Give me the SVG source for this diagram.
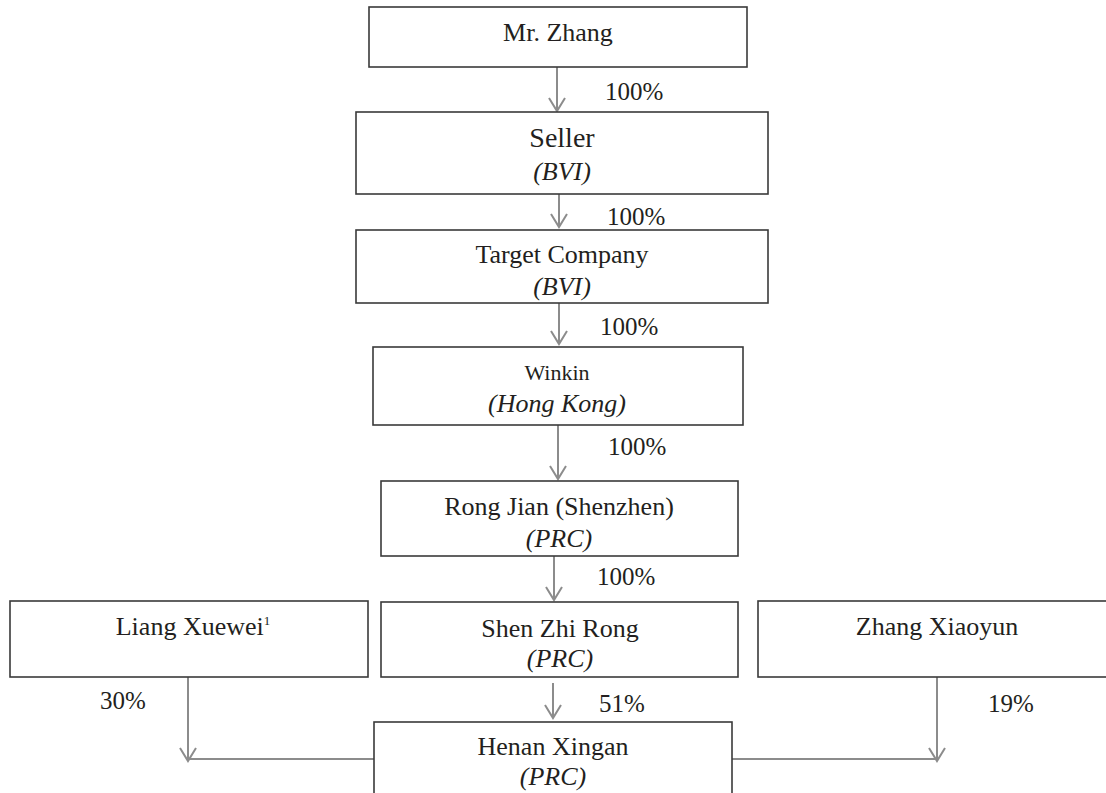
<svg xmlns="http://www.w3.org/2000/svg" width="1106" height="793" viewBox="0 0 1106 793">
<style>
.box{fill:#fff;stroke:#3a3a3a;stroke-width:1.6}
.t{font-family:"Liberation Serif","Times New Roman",serif;font-size:26px;fill:#231f20;text-anchor:middle}
.i{font-style:italic}
.p{font-family:"Liberation Serif","Times New Roman",serif;font-size:25px;fill:#231f20}
.c{fill:none;stroke:#8c8c8c;stroke-width:2}
</style>
<defs>
<marker id="ah" markerUnits="userSpaceOnUse" markerWidth="20" markerHeight="24" viewBox="-16 -12 20 24" refX="0" refY="0" orient="auto">
<path d="M-13,-8 L0,0 L-13,8" fill="none" stroke="#8c8c8c" stroke-width="2"/>
</marker>
</defs>
<rect width="1106" height="793" fill="#fff"/>
<g id="connectors">
<line class="c" x1="557" y1="67" x2="557" y2="111" marker-end="url(#ah)"/>
<line class="c" x1="559" y1="194" x2="559" y2="227" marker-end="url(#ah)"/>
<line class="c" x1="559" y1="303" x2="559" y2="344" marker-end="url(#ah)"/>
<line class="c" x1="558" y1="425" x2="558" y2="479" marker-end="url(#ah)"/>
<line class="c" x1="554" y1="556" x2="554" y2="600" marker-end="url(#ah)"/>
<line class="c" x1="553" y1="683" x2="553" y2="718" marker-end="url(#ah)"/>
<line class="c" x1="188" y1="677" x2="188" y2="761" marker-end="url(#ah)"/>
<line class="c" x1="188" y1="759" x2="374" y2="759"/>
<line class="c" x1="937" y1="677" x2="937" y2="761" marker-end="url(#ah)"/>
<line class="c" x1="732" y1="759" x2="937" y2="759"/>
<text class="p" x="605" y="100">100%</text>
<text class="p" x="607" y="225">100%</text>
<text class="p" x="600" y="335">100%</text>
<text class="p" x="608" y="455">100%</text>
<text class="p" x="597" y="585">100%</text>
<text class="p" x="599" y="712">51%</text>
<text class="p" x="100" y="709">30%</text>
<text class="p" x="988" y="712">19%</text>
</g>
<g id="mr-zhang">
<rect class="box" x="369" y="7" width="378" height="60"/>
<text class="t" x="558" y="41">Mr. Zhang</text>
</g>
<g id="seller">
<rect class="box" x="356" y="112" width="412" height="82"/>
<text class="t" x="562" y="147" style="font-size:28px">Seller</text>
<text class="t i" x="562" y="180">(BVI)</text>
</g>
<g id="target">
<rect class="box" x="356" y="230" width="412" height="73"/>
<text class="t" x="562" y="263">Target Company</text>
<text class="t i" x="562" y="295">(BVI)</text>
</g>
<g id="winkin">
<rect class="box" x="373" y="347" width="370" height="78"/>
<text class="t" x="557" y="380" style="font-size:22px">Winkin</text>
<text class="t i" x="557" y="412">(Hong Kong)</text>
</g>
<g id="rong-jian">
<rect class="box" x="381" y="481" width="357" height="75"/>
<text class="t" x="559" y="515">Rong Jian (Shenzhen)</text>
<text class="t i" x="559" y="547">(PRC)</text>
</g>
<g id="liang">
<rect class="box" x="10" y="601" width="358" height="76"/>
<text class="t" x="193" y="635">Liang Xuewei<tspan style="font-size:13px" dy="-10">1</tspan></text>
</g>
<g id="shen">
<rect class="box" x="381" y="602" width="357" height="75"/>
<text class="t" x="560" y="637">Shen Zhi Rong</text>
<text class="t i" x="560" y="667">(PRC)</text>
</g>
<g id="zhang-xiaoyun">
<rect class="box" x="758" y="601" width="360" height="76"/>
<text class="t" x="937" y="635">Zhang Xiaoyun</text>
</g>
<g id="henan">
<rect class="box" x="374" y="722" width="358" height="90"/>
<text class="t" x="553" y="755">Henan Xingan</text>
<text class="t i" x="553" y="785">(PRC)</text>
</g>
</svg>
